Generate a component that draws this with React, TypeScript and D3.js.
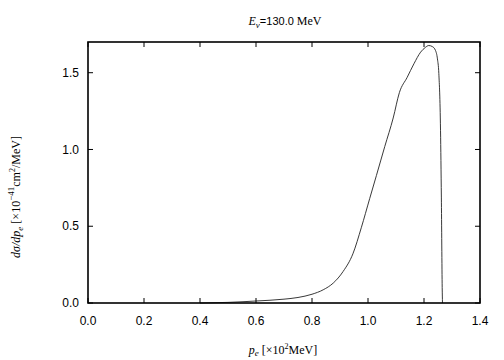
import { curveMonotoneX, line, range, scaleLinear } from 'd3';

const width = 504;
const height = 360;
const margin = { top: 42, right: 24, bottom: 57, left: 88 };

// spectrum
const pValues = [
	0.4, 0.45, 0.5, 0.55, 0.6, 0.65, 0.7, 0.75, 0.8, 0.84, 0.876, 0.911, 0.946,
	0.976, 1.006, 1.03, 1.06, 1.09, 1.112, 1.14, 1.164, 1.188, 1.205, 1.217,
	1.23, 1.241, 1.248, 1.253, 1.259, 1.262, 1.265, 1.266,
];
const sigmaValues = [
	0.0, 0.002, 0.004, 0.008, 0.013, 0.018, 0.025, 0.036, 0.057, 0.086, 0.13,
	0.205, 0.32, 0.49, 0.68, 0.83, 1.02, 1.205, 1.37, 1.47, 1.558, 1.634, 1.665,
	1.677, 1.67, 1.645, 1.59, 1.494, 1.125, 0.69, 0.1, 0.0,
];
const xTicks = range(0, 1.41, 0.2);
const yTicks = [0, 0.5, 1.0, 1.5];

const times = '"Liberation Serif", "Times New Roman", serif';
const sans = '"Liberation Sans", Arial, sans-serif';

const App = () => {
	const innerWidth = width - margin.left - margin.right;
	const innerHeight = height - margin.top - margin.bottom;

	const xScale = scaleLinear().domain([0, 1.4]).range([0, innerWidth]);
	const yScale = scaleLinear().domain([0, 1.7]).range([innerHeight, 0]);

	const data = pValues.map((p, i) => [p, sigmaValues[i]] as [number, number]);
	const path =
		line<[number, number]>()
			.curve(curveMonotoneX)
			.x(d => xScale(d[0]))
			.y(d => yScale(d[1]))(data) || '';

	const tickLen = 5;

	return (
		<svg
			width={width}
			height={height}
			style={{ position: 'absolute', left: 0, top: 0, background: 'white' }}
		>
			<text
				x={285}
				y={25}
				textAnchor="middle"
				fontSize={12}
				fontFamily={times}
			>
				<tspan fontStyle="italic">E</tspan>
				<tspan fontStyle="italic" fontSize={9} dy={3}>
					ν
				</tspan>
				<tspan dy={-3} fontFamily={sans} fontSize={11}>
					=130.0
				</tspan>
				<tspan> MeV</tspan>
			</text>
			<g transform={`translate(${margin.left},${margin.top})`}>
				<path d={path} fill="none" stroke="#222" strokeWidth={0.9} />
				{xTicks.map(t => (
					<g key={t} transform={`translate(${xScale(t)},0)`}>
						<line y1={innerHeight} y2={innerHeight - tickLen} stroke="black" />
						<line y1={0} y2={tickLen} stroke="black" />
						<text
							y={innerHeight + 22}
							textAnchor="middle"
							fontSize={12}
							fontFamily={sans}
						>
							{t.toFixed(1)}
						</text>
					</g>
				))}
				{yTicks.map(t => (
					<g key={t} transform={`translate(0,${yScale(t)})`}>
						<line x1={0} x2={tickLen} stroke="black" />
						<line x1={innerWidth} x2={innerWidth - tickLen} stroke="black" />
						<text
							x={-9}
							dy="0.35em"
							textAnchor="end"
							fontSize={12}
							fontFamily={sans}
						>
							{t.toFixed(1)}
						</text>
					</g>
				))}
				<rect
					width={innerWidth}
					height={innerHeight}
					fill="none"
					stroke="black"
					strokeWidth={1.6}
				/>
			</g>
			<text
				x={283}
				y={354}
				textAnchor="middle"
				fontSize={12}
				fontFamily={times}
			>
				<tspan fontStyle="italic">p</tspan>
				<tspan fontStyle="italic" fontSize={9} dy={2}>
					e
				</tspan>
				<tspan dy={-2}> [×10</tspan>
				<tspan fontSize={8} dy={-5}>
					2
				</tspan>
				<tspan dy={5}>MeV]</tspan>
			</text>
			<text
				transform={`translate(20,${margin.top + 155}) rotate(-90)`}
				textAnchor="middle"
				fontSize={12}
				fontFamily={times}
			>
				<tspan fontStyle="italic">dσ/dp</tspan>
				<tspan fontStyle="italic" fontSize={9} dy={3}>
					e
				</tspan>
				<tspan dy={-3}> [×10</tspan>
				<tspan fontSize={9} dy={-6}>
					−41
				</tspan>
				<tspan dy={6}>cm</tspan>
				<tspan fontSize={8} dy={-5}>
					2
				</tspan>
				<tspan dy={5}>/MeV]</tspan>
			</text>
		</svg>
	);
};

export default App;
